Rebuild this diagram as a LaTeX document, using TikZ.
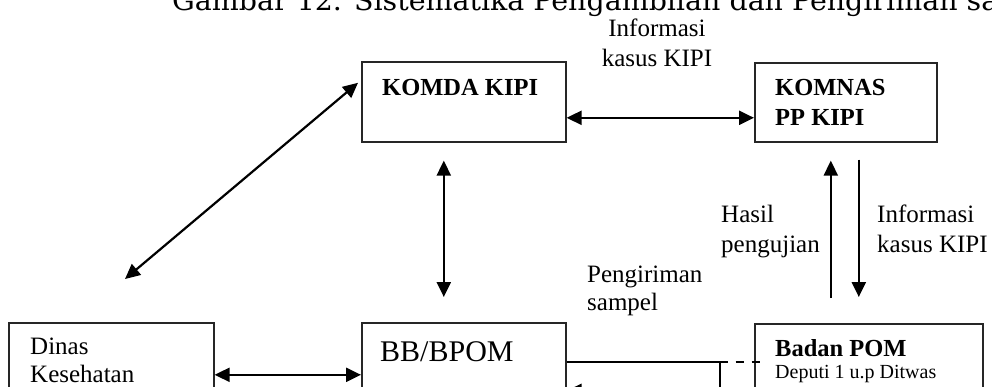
\documentclass[tikz,border=0pt]{standalone}
\usepackage{fontspec}
\setmainfont{Liberation Serif}
\newfontfamily\titlefont{DejaVu Serif}
\usetikzlibrary{arrows.meta,calc}
\begin{document}
\begin{tikzpicture}[x=1pt,y=-1pt,
  box/.style={draw=black!85,line width=1.6pt,inner sep=0pt,anchor=north west},
  lbl/.style={anchor=base west,inner sep=0pt,align=left,font=\fontsize{25}{29.5}\selectfont},
  bold/.style={font=\bfseries\fontsize{24.5}{30}\selectfont},
  tip/.tip={Triangle[length=15pt,width=14pt]},
  con/.style={line width=2.2pt,-tip},
  dbl/.style={line width=2.2pt,tip-tip},
  dsh/.style={line width=2pt,dash pattern=on 8pt off 8pt}]
\useasboundingbox (0,0) rectangle (992,386);
\clip (0,0) rectangle (992,386);
\fill[white] (0,0) rectangle (992,386);

% title (cut at the top)
\node[anchor=base west,inner sep=0pt] (title) at (172,10)
  {\resizebox{826pt}{21pt}{\titlefont Gambar 12. Sistematika Pengambilan dan Pengiriman sa}};

% boxes
\node[box,minimum width=204pt,minimum height=80pt] (komda) at (361,61) {};
\node[box,minimum width=182pt,minimum height=79pt] (komnas) at (754,62) {};
\node[box,minimum width=205pt,minimum height=100pt] (dinas) at (8,322) {};
\node[box,minimum width=204pt,minimum height=100pt] (bb) at (361,322) {};
\node[box,minimum width=228pt,minimum height=100pt] (badan) at (754,323) {};

% box texts (multi-line nodes: base = baseline of the last line)
\node[lbl,bold] (tkomda) at (382,95) {KOMDA KIPI};
\node[lbl,bold] (tkomnas) at (775,125) {KOMNAS\\PP KIPI};
\node[lbl,font=\fontsize{25}{28}\selectfont] (tdinas) at (30,382) {Dinas\\Kesehatan};
\node[lbl,font=\fontsize{30}{34}\selectfont] (tbb) at (380,361) {BB/BPOM};
\node[lbl,bold] (tbadan) at (775,356) {Badan POM};
\node[lbl,font=\fontsize{20}{24}\selectfont] (tdeputi) at (775,378) {Deputi 1 u.p Ditwas};

% connector labels
\node[lbl,anchor=base,align=center] (linfo) at (657,66) {Informasi\\kasus KIPI};
\node[lbl] (lhasil) at (721,252) {Hasil\\pengujian};
\node[lbl] (linfo2) at (877,252) {Informasi\\kasus KIPI};
\node[lbl,font=\fontsize{25}{28}\selectfont] (lkirim) at (587,310) {Pengiriman\\sampel};

% connectors
\draw[dbl] ($(komda.east)+(0,16)$) -- ($(komnas.west)+(0,15.5)$);
\coordinate (dfree) at (125,279);
\draw[dbl] (dfree) -- ($(komda.west)+(-3,-19)$);
\draw[dbl] ($(komda.south)+(-20,18)$) -- ($(bb.north)+(-20,-25)$);
\draw[con] ($(badan.north)+(-38,-25)$) -- ($(komnas.south)+(-15,18)$);
\draw[con] ($(komnas.south)+(13,17)$) -- ($(badan.north)+(-10,-26)$);
\draw[dbl] ($(dinas.east)+(0,2)$) -- ($(bb.west)+(0,2)$);
\coordinate (corner) at ($(bb.east)+(153,-11)$);
\draw[con] ($(bb.east)+(0,-11)$) -- (corner) -- ($(bb.east)+(153,18)$) -- ($(bb.east)+(0,18)$);
\draw[dsh] (corner) -- ($(badan.west)+(6,-12)$);
\end{tikzpicture}
\end{document}
